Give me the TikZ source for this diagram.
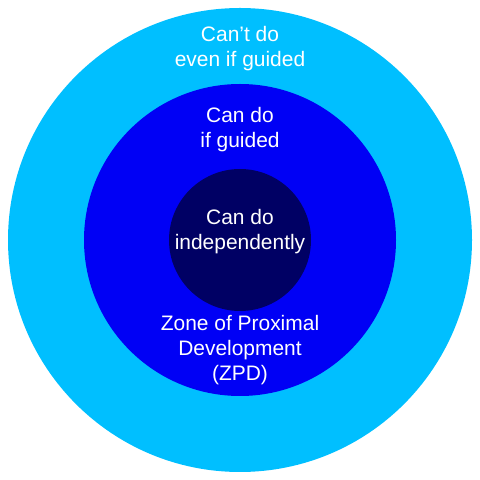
\documentclass[tikz,border=0pt]{standalone}
\usepackage{fontspec}
\setmainfont{Liberation Sans}
\usepackage{xcolor}
\definecolor{outerzone}{RGB}{0, 191, 255}
\definecolor{zpdzone}{RGB}{0, 0, 245}
\definecolor{innerzone}{RGB}{0, 0, 100}

\begin{document}
\begin{tikzpicture}[x=0.025cm, y=0.025cm]
  \tikzset{
    zonelabel/.style={text=white, align=center, inner sep=0pt,
      font=\fontsize{14.9}{17.8}\selectfont}
  }
  \useasboundingbox (0,0) rectangle (480,480);

  % ---------- Circles ----------
  \fill[outerzone] (240,240) circle (232);
  \fill[zpdzone] (240,240) circle (156);
  \fill[innerzone] (240,240) circle (71);

  % ---------- Labels ----------
  \node[zonelabel] (cant) at (240,431) {Can't do\\even if guided};
  \node[zonelabel] (guided) at (240,350) {Can do\\if guided};
  \node[zonelabel] (alone) at (240,248) {Can do\\independently};
  \node[zonelabel] (zpd) at (240,130) {Zone of Proximal\\Development\\(ZPD)};

\end{tikzpicture}
\end{document}
